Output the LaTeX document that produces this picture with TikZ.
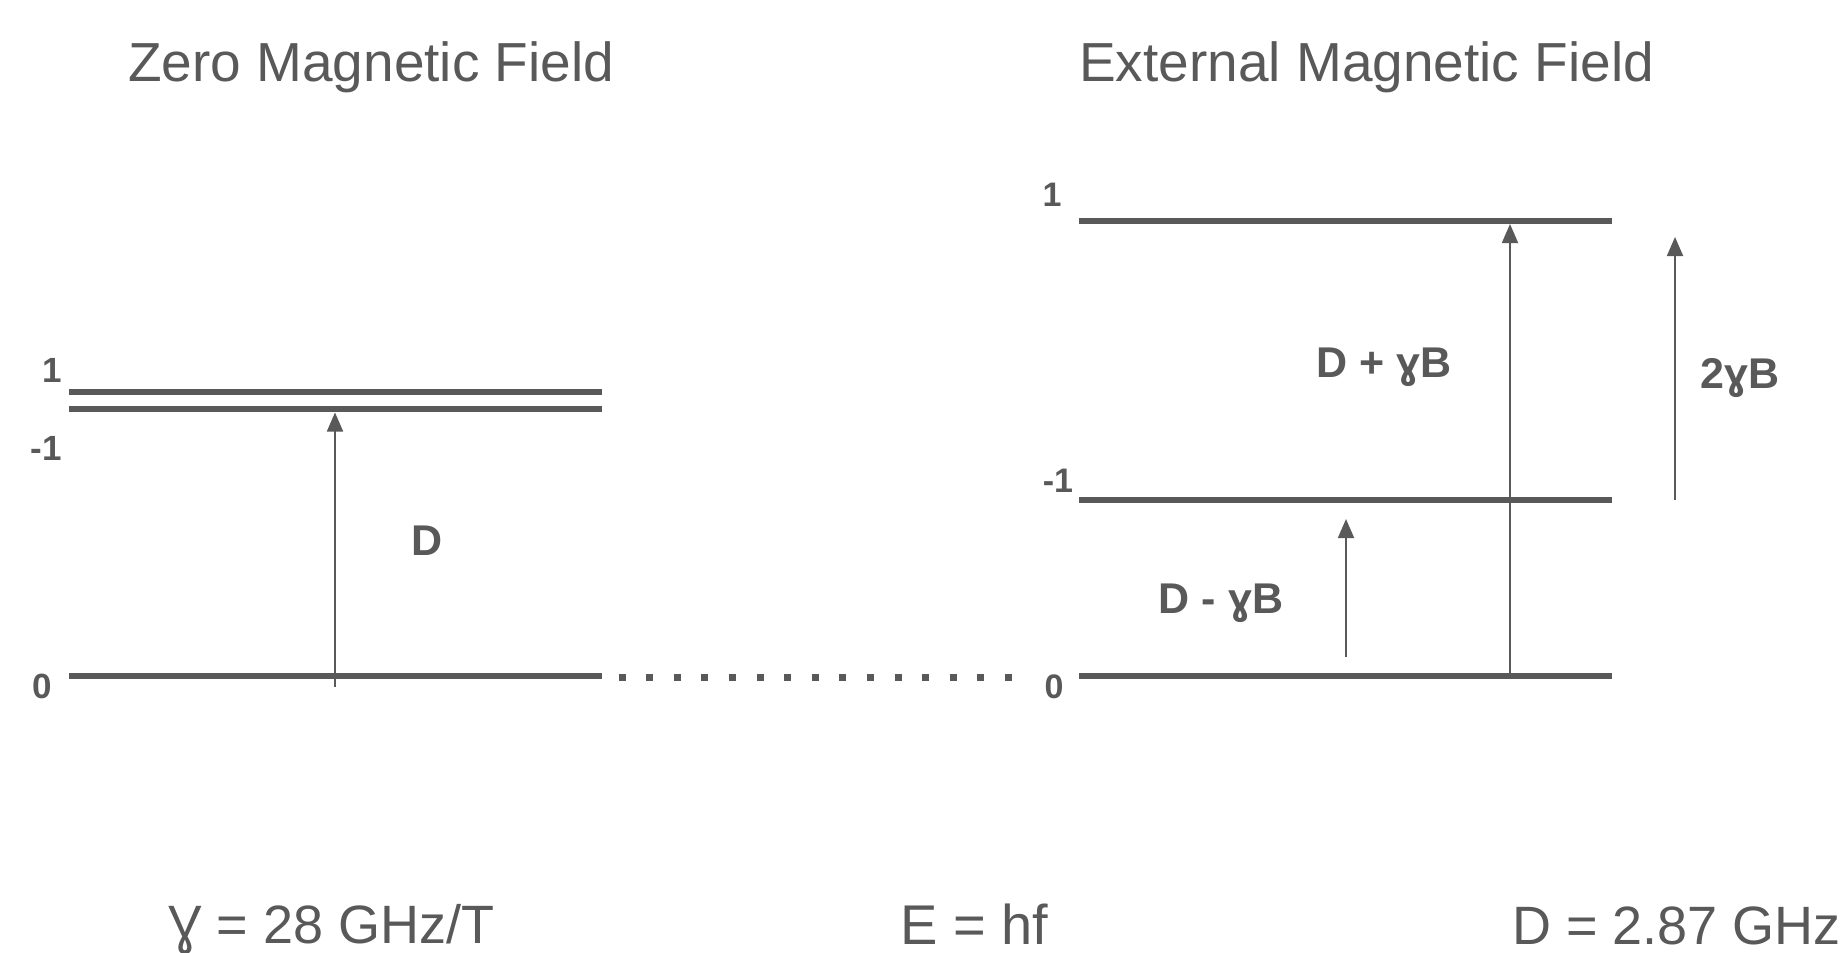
\documentclass[tikz,border=0pt]{standalone}
\usepackage{fontspec}
\setmainfont{Liberation Sans}
\usetikzlibrary{arrows.meta}
\definecolor{ink}{HTML}{595959}
\begin{document}
\begin{tikzpicture}[x=1pt,y=-1pt,
  level/.style={line width=6pt, draw=ink},
  trans/.style={line width=1.8pt, draw=ink, -{Triangle[width=16pt,length=19pt]}},
  dots/.style={line width=7pt, draw=ink, dash pattern=on 7pt off 20.6pt},
  title/.style={anchor=base west, inner sep=0pt, text=ink, font=\fontsize{55}{60}\selectfont},
  formula/.style={anchor=base west, inner sep=0pt, text=ink},
  lab/.style={anchor=base, inner sep=0pt, text=ink, font=\bfseries\fontsize{43}{48}\selectfont},
  numL/.style={anchor=base, inner sep=0pt, text=ink, font=\bfseries\fontsize{35}{40}\selectfont},
  numR/.style={anchor=base, inner sep=0pt, text=ink, font=\bfseries\fontsize{34}{40}\selectfont},
]
\useasboundingbox[fill=white] (0,0) rectangle (1845,953);

% titles
\node[title] (tz) at (128,81) {Zero Magnetic Field};
\node[title] (te) at (1079,81) {External Magnetic Field};

% zero-field levels
\coordinate (Z1a) at (69,392);   \coordinate (Z1b) at (602,392);
\coordinate (Zm1a) at (69,409);  \coordinate (Zm1b) at (602,409);
\coordinate (Z0a) at (69,676);   \coordinate (Z0b) at (602,676);
\draw[level] (Z1a) -- (Z1b);
\draw[level] (Zm1a) -- (Zm1b);
\draw[level] (Z0a) -- (Z0b);

% external-field levels
\coordinate (E1a) at (1079,221);  \coordinate (E1b) at (1612,221);
\coordinate (Em1a) at (1079,500); \coordinate (Em1b) at (1612,500);
\coordinate (E0a) at (1079,676);  \coordinate (E0b) at (1612,676);
\draw[level] (E1a) -- (E1b);
\draw[level] (Em1a) -- (Em1b);
\draw[level] (E0a) -- (E0b);

% dotted connection between ground states
\coordinate (dotA) at (618.5,677);
\coordinate (dotB) at (1013,677);
\draw[dots] (dotA) -- (dotB);

% level labels
\node[numL] (lz1) at (52,382) {1};
\node[numL] (lzm1) at (46,460) {-1};
\node[numL] (lz0) at (42,698) {0};
\node[numR] (le1) at (1052,206) {1};
\node[numR] (lem1) at (1058,492) {-1};
\node[numR] (le0) at (1054,698) {0};

% transitions
\coordinate (aD0) at (335,687);   \coordinate (aD1) at (335,412.5);
\draw[trans] (aD0) -- (aD1);
\coordinate (aP0) at (1510,676);  \coordinate (aP1) at (1510,224);
\draw[trans] (aP0) -- (aP1);
\coordinate (aM0) at (1346,657);  \coordinate (aM1) at (1346,519);
\draw[trans] (aM0) -- (aM1);
\coordinate (aT0) at (1675,500);  \coordinate (aT1) at (1675,237);
\draw[trans] (aT0) -- (aT1);

\node[lab] (lD) at (427.5,555) {D};
\node[lab] (lP) at (1384,377) {D + ɣB};
\node[lab] (lM) at (1221,613) {D - ɣB};
\node[lab] (lT) at (1740,388) {2ɣB};

% bottom formulas
\node[formula, font=\fontsize{54}{60}\selectfont] (fg) at (168,943) {Ɣ = 28 GHz/T};
\node[formula, font=\fontsize{56}{62}\selectfont] (fe) at (900,944) {E = hf};
\node[formula, font=\fontsize{54}{60}\selectfont] (fd) at (1512,944) {D = 2.87 GHz};
\end{tikzpicture}
\end{document}
